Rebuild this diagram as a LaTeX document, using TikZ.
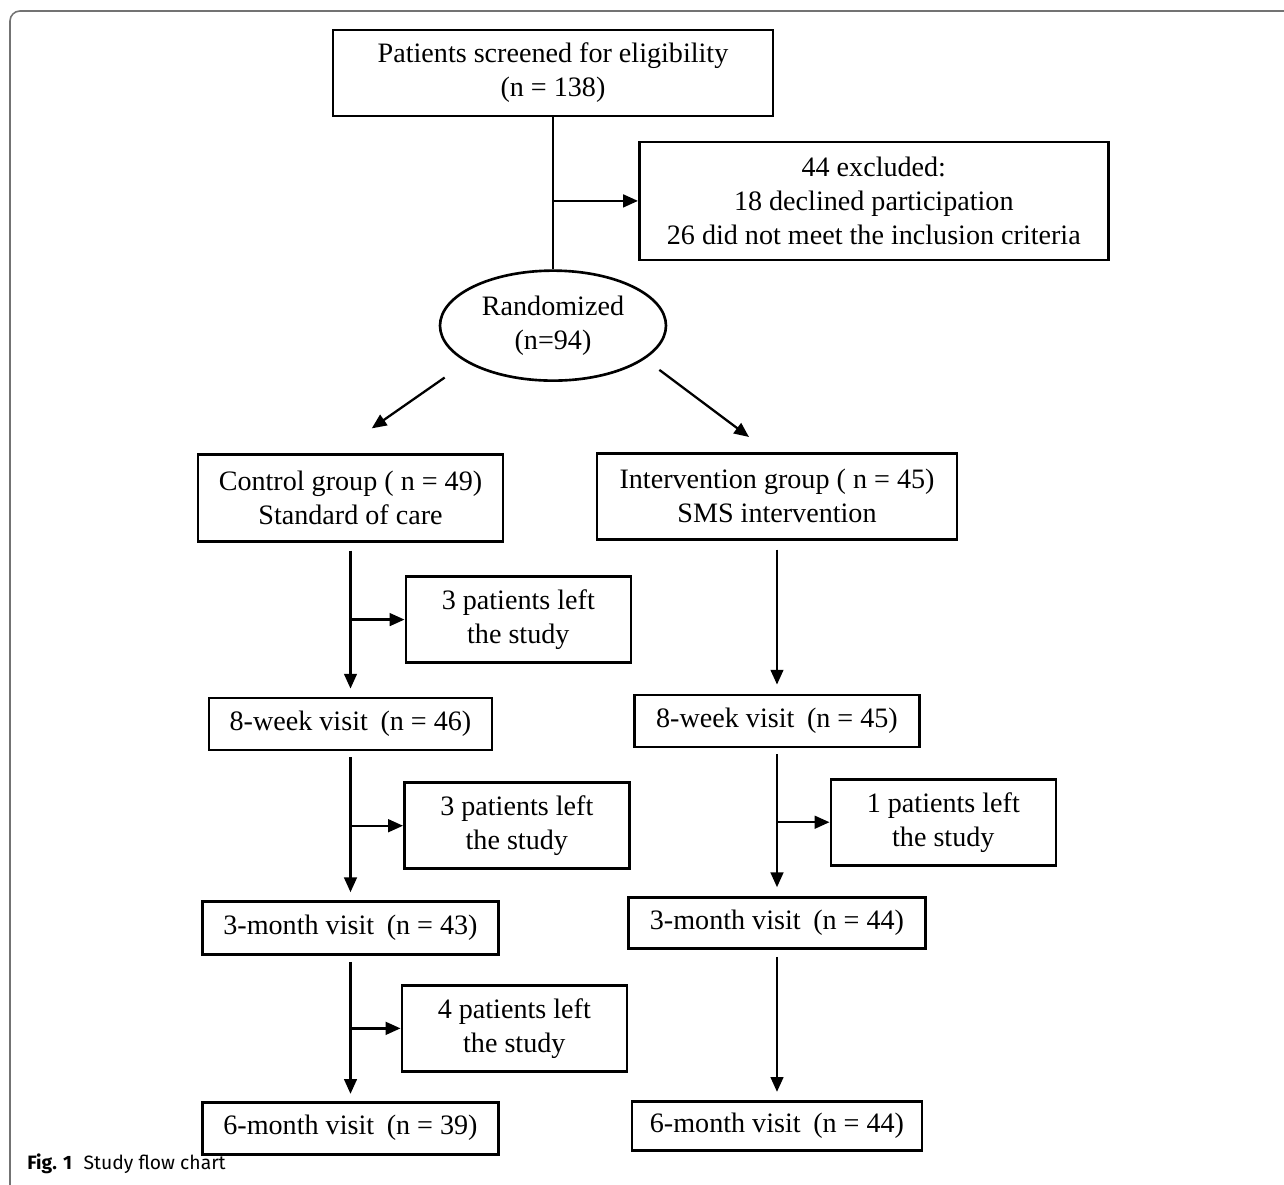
\documentclass[tikz,border=0pt]{standalone}
\usepackage{fontspec}
\setmainfont{Liberation Serif}
\newfontfamily\capfont{Fira Sans}
\usetikzlibrary{arrows.meta,positioning,shapes.geometric,calc}

\begin{document}
\begin{tikzpicture}[
  font=\fontsize{16}{19.3}\selectfont,
  blk/.style={draw, line width=1.5pt, minimum height=1.72cm, inner sep=2pt, align=center},
  vis/.style={draw, line width=1.5pt, minimum height=1.04cm, inner sep=2pt, align=center},
  sm/.style={draw, line width=1.5pt, minimum width=4.5cm, minimum height=1.72cm, inner sep=2pt, align=center},
  rnd/.style={draw, ellipse, line width=1.5pt, minimum width=4.52cm, minimum height=2.2cm, inner sep=0pt, align=center},
  arr/.style={-{Triangle[length=8.4pt,width=7.2pt]}, line width=1.3pt},
  trunk/.style={line width=1.3pt},
  frame/.style={draw=black!55, line width=0.9pt, rounded corners=0.2cm},
  lab/.style={font=\capfont\fontsize{11}{13}\selectfont, anchor=west, inner sep=0pt}
]
\useasboundingbox (0,0) rectangle (25.68,-23.7);

% Outer frame
\draw[frame] (25.68,-0.22) -- (0.2,-0.22) -- (0.2,-23.7);

% Enrolment
\node[blk, minimum width=8.8cm] (scr) at (11.06,-1.46) {Patients screened for eligibility\\(n = 138)};
\node[rnd, below=3.04cm of scr] (rand) {Randomized\\(n=94)};
\coordinate (split) at ($(scr.south)!0.55!(rand.north)$);
\node[blk, right=1.7cm of split, minimum width=9.38cm, minimum height=2.36cm] (excl) {44 excluded:\\18 declined participation\\26 did not meet the inclusion criteria};

% Allocation
\node[blk, minimum width=6.1cm, minimum height=1.74cm, below=1.42cm of rand, xshift=-4.05cm] (ctrl) {Control group ( n = 49)\\Standard of care};
\node[blk, minimum width=7.2cm, below=1.4cm of rand, xshift=4.48cm] (intv) {Intervention group ( n = 45)\\SMS intervention};

% Control arm
\node[vis, minimum width=5.66cm, below=3.08cm of ctrl] (c8) {8-week visit\hspace{0.2em} (n = 46)};
\node[vis, minimum width=5.92cm, minimum height=1.06cm, below=2.98cm of c8] (c3) {3-month visit\hspace{0.2em} (n = 43)};
\node[vis, minimum width=5.92cm, below=2.9cm of c3] (c6) {6-month visit\hspace{0.2em} (n = 39)};

% Intervention arm
\node[vis, minimum width=5.7cm, below=3.06cm of intv] (i8) {8-week visit\hspace{0.2em} (n = 45)};
\node[vis, minimum width=5.94cm, minimum height=1.02cm, below=2.96cm of i8] (i3) {3-month visit\hspace{0.2em} (n = 44)};
\node[vis, minimum width=5.8cm, minimum height=0.98cm, below=3.0cm of i3] (i6) {6-month visit\hspace{0.2em} (n = 44)};

% Drop-outs
\coordinate (cb1) at ($(ctrl.south)!0.5!(c8.north)$);
\coordinate (cb2) at ($(c8.south)!0.5!(c3.north)$);
\coordinate (cb3) at ($(c3.south)!0.5!(c6.north)$);
\coordinate (ib) at ($(i8.south)!0.5!(i3.north)$);
\node[sm, right=1.08cm of cb1] (cl1) {3 patients left\\the study};
\node[sm, right=1.05cm of cb2] (cl2) {3 patients left\\the study};
\node[sm, right=1.0cm of cb3] (cl3) {4 patients left\\the study};
\node[sm, right=1.05cm of ib] (il) {1 patients left\\the study};

% Connections
\draw[trunk] (scr) -- (rand);
\draw[arr] (split) -- (excl);
\draw[arr, shorten <=0.53cm, shorten >=0.86cm] (rand.203) -- ([xshift=-0.28cm]ctrl.north);
\draw[arr, shorten <=0.36cm, shorten >=0.5cm] (rand.340) -- ([xshift=-0.16cm]intv.north);

\draw[arr, shorten <=0.16cm, shorten >=0.16cm] (ctrl) -- (c8);
\draw[arr, shorten <=0.12cm, shorten >=0.16cm] (c8) -- (c3);
\draw[arr, shorten <=0.12cm, shorten >=0.14cm] (c3) -- (c6);
\draw[arr, shorten <=0.18cm, shorten >=0.18cm] (intv) -- (i8);
\draw[arr, shorten <=0.12cm, shorten >=0.18cm] (i8) -- (i3);
\draw[arr, shorten <=0.14cm, shorten >=0.16cm] (i3) -- (i6);

\draw[arr] (cb1) -- (cl1);
\draw[arr] (cb2) -- (cl2);
\draw[arr] (cb3) -- (cl3);
\draw[arr] (ib) -- (il);

% Caption
\node[lab] (cap) at (0.54,-23.28) {\textbf{Fig. 1}\hspace{0.6em}Study flow chart};

\end{tikzpicture}
\end{document}
